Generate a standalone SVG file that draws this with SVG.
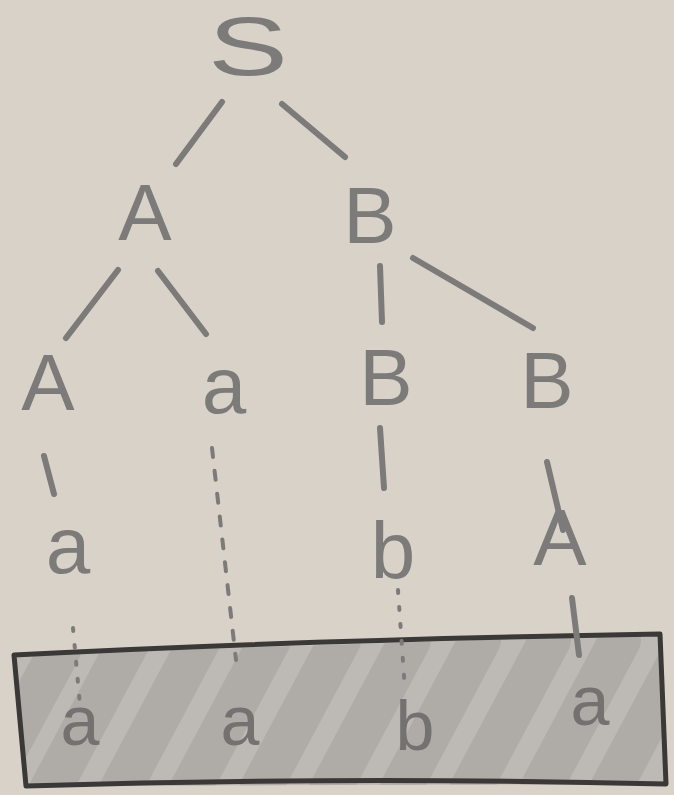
<svg xmlns="http://www.w3.org/2000/svg" width="674" height="795" viewBox="0 0 674 795">
<style>
.t{font-family:"Liberation Sans","DejaVu Sans",sans-serif;fill:#7c7b7a;text-anchor:middle}
.cap{font-size:80px}
.low{font-size:80px}
.sm{font-size:70px;fill:#737270}
.e{stroke:#7c7b7a;stroke-width:6;stroke-linecap:round;fill:none}
.d{stroke:#7c7b7a;stroke-width:4;stroke-linecap:round;fill:none;stroke-dasharray:3 14}
.dl{stroke-dasharray:9 14}
.h{stroke:#a9a6a3;stroke-width:42;stroke-linecap:round;fill:none;opacity:0.7}
</style>
<defs>
<clipPath id="boxclip"><path d="M14,655 L660,634 L666,784 L26,786 Z"/></clipPath>
</defs>
<rect width="674" height="795" fill="#d9d2c9"/>
<g id="frame">
<path d="M14,655 L660,634 L666,784 L26,786 Z" fill="#bdb9b5"/>
<g clip-path="url(#boxclip)">
<path class="h" d="M-10,780 L60,650 M50,790 L130,640 M120,790 L200,640 M190,790 L270,640 M260,790 L340,640 M330,790 L410,640 M400,790 L480,640 M470,790 L550,640 M540,790 L620,640 M610,790 L690,640"/>
</g>
<path d="M14,655 Q300,640 660,634 L666,784 Q350,776 26,786 Z" fill="none" stroke="#3a3937" stroke-width="5" stroke-linejoin="round"/>
</g>
<g id="connectors">
<line class="e" x1="222" y1="102" x2="176" y2="164"/>
<line class="e" x1="282" y1="104" x2="345" y2="157"/>
<line class="e" x1="118" y1="270" x2="66" y2="338"/>
<line class="e" x1="158" y1="271" x2="206" y2="334"/>
<line class="e" x1="380" y1="266" x2="382" y2="322"/>
<line class="e" x1="413" y1="258" x2="533" y2="328"/>
<line class="e" x1="44" y1="456" x2="54" y2="494"/>
<line class="d dl" x1="212" y1="448" x2="236" y2="660"/>
<line class="e" x1="380" y1="428" x2="384" y2="488"/>
<line class="e" x1="547" y1="462" x2="563" y2="530"/>
<line class="d" x1="73" y1="628" x2="80" y2="705"/>
<line class="d" x1="398" y1="590" x2="405" y2="690"/>
<line class="e" x1="572" y1="598" x2="579" y2="655"/>
</g>
<g id="S"><text class="t cap" x="0" y="0" transform="translate(248,75) scale(1.5,1.05)">S</text></g>
<g id="A1"><text class="t cap" x="145" y="240">A</text></g>
<g id="B1"><text class="t cap" x="370" y="243">B</text></g>
<g id="A2"><text class="t cap" x="48" y="410">A</text></g>
<g id="a2"><text class="t low" x="224" y="413">a</text></g>
<g id="B2"><text class="t cap" x="386" y="405">B</text></g>
<g id="B3"><text class="t cap" x="547" y="408">B</text></g>
<g id="a3"><text class="t low" x="68" y="573">a</text></g>
<g id="b3"><text class="t low" x="393" y="578">b</text></g>
<g id="A3"><text class="t cap" x="560" y="565">A</text></g>
<g id="w1"><text class="t sm" x="80" y="745">a</text></g>
<g id="w2"><text class="t sm" x="240" y="745">a</text></g>
<g id="w3"><text class="t sm" x="415" y="750">b</text></g>
<g id="w4"><text class="t sm" x="590" y="725">a</text></g>
</svg>
